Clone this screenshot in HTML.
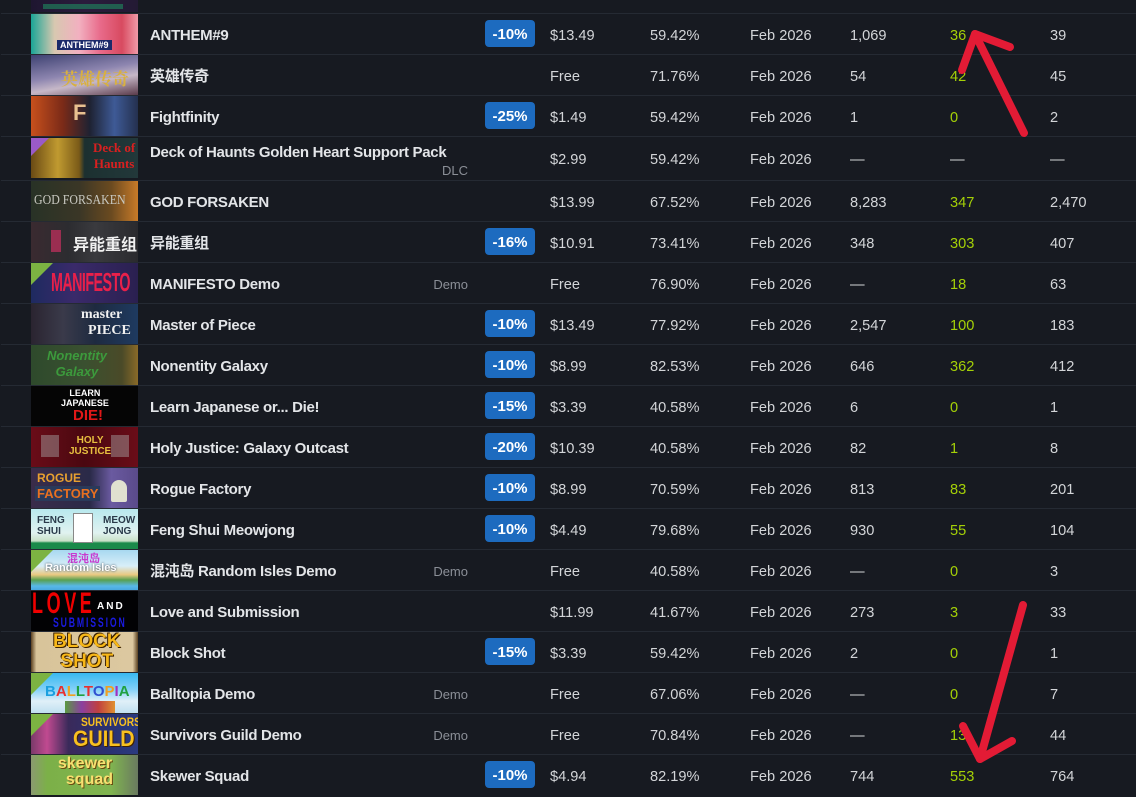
<!DOCTYPE html>
<html><head><meta charset="utf-8">
<style>
*{box-sizing:border-box}
body{margin:0;background:#171a21;width:1136px;height:793px;overflow:hidden;position:relative;font-family:"Liberation Sans","Noto Sans CJK SC",sans-serif;}
.r{position:absolute;left:1px;width:1135px;height:41px;border-top:1px solid #252a33;}
.t{position:absolute;left:30px;top:0;width:107px;height:40px;overflow:hidden;}
.n{position:absolute;left:149px;top:2px;line-height:40px;font-weight:bold;font-size:15px;letter-spacing:-0.3px;color:#e3e5e8;white-space:nowrap}
.c{position:absolute;top:2px;line-height:40px;font-size:14.6px;color:#d3d5d8;white-space:nowrap}
.p{left:549px}.q{left:649px}.d{left:749px}.e{left:849px}.g{left:949px;color:#a4d007}.l{left:1049px}
.b{position:absolute;left:484px;top:6px;width:50px;height:27px;border-radius:4px;background:#1d6bbf;color:#fff;font-weight:bold;font-size:15px;text-align:center;line-height:30px}
.tag{position:absolute;right:668px;top:2px;line-height:40px;font-size:13px;color:#8b8f97}
.tri{position:absolute;left:0;top:0;width:0;height:0;border-top:22px solid #7cb342;border-right:22px solid transparent}
.tx{position:absolute;white-space:nowrap;font-weight:bold}
</style></head><body>

<!-- partial top row -->
<div style="position:absolute;left:31px;top:0;width:107px;height:12px;background:linear-gradient(90deg,#1e1630,#2a1c3c 50%,#231a34);overflow:hidden">
<div style="position:absolute;left:12px;top:4px;width:80px;height:5px;background:#1f7a5a;opacity:.7"></div></div>

<!-- 1 ANTHEM -->
<div class="r" style="top:13px">
<div class="t" style="background:linear-gradient(90deg,#1aa596 0%,#d8c8b0 22%,#f2b0c0 45%,#e86a8a 65%,#d84a60 85%,#f09aa8 100%)">
<div class="tx" style="left:26px;top:26px;font-size:9px;color:#fff;background:#1a2a6a;padding:0 3px">ANTHEM#9</div></div>
<span class="n">ANTHEM#9</span><span class="b">-10%</span>
<span class="c p">$13.49</span><span class="c q">59.42%</span><span class="c d">Feb 2026</span><span class="c e">1,069</span><span class="c g">36</span><span class="c l">39</span></div>

<!-- 2 -->
<div class="r" style="top:54px">
<div class="t" style="background:linear-gradient(170deg,#3e4272 0%,#8e86b0 45%,#c6b8c8 65%,#5a3a4a 100%)">
<div class="tx" style="left:30px;top:10px;font-size:17px;color:#d8b040;font-family:'Noto Serif CJK SC',serif">英雄传奇</div></div>
<span class="n">英雄传奇</span>
<span class="c p">Free</span><span class="c q">71.76%</span><span class="c d">Feb 2026</span><span class="c e">54</span><span class="c g">42</span><span class="c l">45</span></div>

<!-- 3 -->
<div class="r" style="top:95px">
<div class="t" style="background:linear-gradient(90deg,#c8501c 0%,#7a2a18 30%,#1e2232 55%,#3e5a96 78%,#24304e 100%)">
<div class="tx" style="left:42px;top:4px;font-size:22px;color:#e8c090">F</div></div>
<span class="n">Fightfinity</span><span class="b">-25%</span>
<span class="c p">$1.49</span><span class="c q">59.42%</span><span class="c d">Feb 2026</span><span class="c e">1</span><span class="c g">0</span><span class="c l">2</span></div>

<!-- 4 Deck -->
<div class="r" style="top:136px;height:44px">
<div class="t" style="top:1px;background:linear-gradient(90deg,#6a4a14 0%,#c09a30 25%,#7a5a18 45%,#1c3030 50%,#22383a 100%)">
<div style="position:absolute;left:0;top:0;border-top:18px solid #9a5ac8;border-right:18px solid transparent"></div>
<div class="tx" style="left:62px;top:2px;font-size:13px;line-height:16px;color:#d82020;text-align:center;font-family:'Liberation Serif',serif">Deck of<br>Haunts</div></div>
<span class="n" style="top:-4px">Deck of Haunts Golden Heart Support Pack</span>
<span class="tag" style="top:14px">DLC</span>
<span class="c p" style="line-height:43px">$2.99</span><span class="c q" style="line-height:43px">59.42%</span><span class="c d" style="line-height:43px">Feb 2026</span><span class="c e" style="line-height:43px">—</span><span class="c" style="left:949px;line-height:43px">—</span><span class="c l" style="line-height:43px">—</span></div>

<!-- 5 GOD -->
<div class="r" style="top:180px">
<div class="t" style="background:linear-gradient(90deg,#283226 0%,#3a3626 45%,#6a4a20 75%,#c87a28 100%)">
<div class="tx" style="left:3px;top:12px;font-size:14px;color:#c8c8c0;font-family:'Liberation Serif',serif;font-weight:normal;transform:scaleX(0.85);transform-origin:left">GOD FORSAKEN</div></div>
<span class="n">GOD FORSAKEN</span>
<span class="c p">$13.99</span><span class="c q">67.52%</span><span class="c d">Feb 2026</span><span class="c e">8,283</span><span class="c g">347</span><span class="c l">2,470</span></div>

<!-- 6 -->
<div class="r" style="top:221px">
<div class="t" style="background:linear-gradient(90deg,#3a2a30 0%,#2c2c30 35%,#3a3a3e 60%,#2a2a2e 100%)">
<div style="position:absolute;left:20px;top:8px;width:10px;height:22px;background:#c83060;opacity:.7"></div>
<div class="tx" style="left:42px;top:9px;font-size:16px;color:#f0f0f0">异能重组</div></div>
<span class="n">异能重组</span><span class="b">-16%</span>
<span class="c p">$10.91</span><span class="c q">73.41%</span><span class="c d">Feb 2026</span><span class="c e">348</span><span class="c g">303</span><span class="c l">407</span></div>

<!-- 7 MANIFESTO -->
<div class="r" style="top:262px">
<div class="t" style="background:linear-gradient(90deg,#1e2a60 0%,#3a2a6a 40%,#2a2050 100%)">
<div class="tri"></div>
<div class="tx" style="left:20px;top:4px;font-size:26px;color:#e8204a;letter-spacing:-1px;transform:scaleX(0.55);transform-origin:left">MANIFESTO</div></div>
<span class="n">MANIFESTO Demo</span><span class="tag">Demo</span>
<span class="c p">Free</span><span class="c q">76.90%</span><span class="c d">Feb 2026</span><span class="c e">—</span><span class="c g">18</span><span class="c l">63</span></div>

<!-- 8 Master -->
<div class="r" style="top:303px">
<div class="t" style="background:linear-gradient(90deg,#2a2430 0%,#3a3a4a 30%,#1e2a40 60%,#1e3a60 100%)">
<div class="tx" style="left:50px;top:3px;font-size:14px;line-height:16px;color:#f0f0f0;font-family:'Liberation Serif',serif">master<br>&nbsp;&nbsp;PIECE</div></div>
<span class="n">Master of Piece</span><span class="b">-10%</span>
<span class="c p">$13.49</span><span class="c q">77.92%</span><span class="c d">Feb 2026</span><span class="c e">2,547</span><span class="c g">100</span><span class="c l">183</span></div>

<!-- 9 Nonentity -->
<div class="r" style="top:344px">
<div class="t" style="background:linear-gradient(90deg,#2e4a2c 0%,#3a5030 50%,#4a4a28 85%,#8a6a28 100%)">
<div class="tx" style="left:16px;top:3px;font-size:13px;line-height:16px;color:#3c9a3c;font-style:italic;text-align:center">Nonentity<br>Galaxy</div></div>
<span class="n">Nonentity Galaxy</span><span class="b">-10%</span>
<span class="c p">$8.99</span><span class="c q">82.53%</span><span class="c d">Feb 2026</span><span class="c e">646</span><span class="c g">362</span><span class="c l">412</span></div>

<!-- 10 Learn -->
<div class="r" style="top:385px">
<div class="t" style="background:#050505">
<div class="tx" style="left:30px;top:2px;font-size:9px;line-height:10px;color:#fff;text-align:center">LEARN<br>JAPANESE</div>
<div class="tx" style="left:42px;top:21px;font-size:15px;color:#e01818">DIE!</div></div>
<span class="n">Learn Japanese or... Die!</span><span class="b">-15%</span>
<span class="c p">$3.39</span><span class="c q">40.58%</span><span class="c d">Feb 2026</span><span class="c e">6</span><span class="c g">0</span><span class="c l">1</span></div>

<!-- 11 Holy -->
<div class="r" style="top:426px">
<div class="t" style="background:linear-gradient(90deg,#6a0c18 0%,#4a0810 50%,#6a0c18 100%)">
<div style="position:absolute;left:10px;top:8px;width:18px;height:22px;background:#a8a8a8;opacity:.45"></div>
<div style="position:absolute;left:80px;top:8px;width:18px;height:22px;background:#a8a8a8;opacity:.45"></div>
<div class="tx" style="left:38px;top:8px;font-size:10px;line-height:11px;color:#e8c040;text-align:center">HOLY<br>JUSTICE</div></div>
<span class="n">Holy Justice: Galaxy Outcast</span><span class="b">-20%</span>
<span class="c p">$10.39</span><span class="c q">40.58%</span><span class="c d">Feb 2026</span><span class="c e">82</span><span class="c g">1</span><span class="c l">8</span></div>

<!-- 12 Rogue -->
<div class="r" style="top:467px">
<div class="t" style="background:linear-gradient(90deg,#3a2c4a 0%,#2a2a48 55%,#6a5aa0 75%,#5a4a8a 100%)">
<div class="tx" style="left:6px;top:3px;font-size:12px;line-height:15px;color:#e8a030">ROGUE</div>
<div class="tx" style="left:4px;top:18px;font-size:13px;color:#e87020;background:#2a3a5a;padding:0 2px">FACTORY</div>
<div style="position:absolute;left:80px;top:12px;width:16px;height:22px;background:#e0e0d0;border-radius:8px 8px 2px 2px"></div></div>
<span class="n">Rogue Factory</span><span class="b">-10%</span>
<span class="c p">$8.99</span><span class="c q">70.59%</span><span class="c d">Feb 2026</span><span class="c e">813</span><span class="c g">83</span><span class="c l">201</span></div>

<!-- 13 Feng -->
<div class="r" style="top:508px">
<div class="t" style="background:linear-gradient(180deg,#b8e8ee 0%,#e0f2f0 60%,#c8e0c8 80%,#1a8a4a 85%,#1a8a4a 100%)">
<div class="tx" style="left:6px;top:6px;font-size:10px;line-height:11px;color:#2a3a4a">FENG<br>SHUI</div>
<div class="tx" style="left:72px;top:6px;font-size:10px;line-height:11px;color:#2a3a4a">MEOW<br>JONG</div>
<div style="position:absolute;left:42px;top:4px;width:20px;height:30px;background:#fff;border:1px solid #888"></div></div>
<span class="n">Feng Shui Meowjong</span><span class="b">-10%</span>
<span class="c p">$4.49</span><span class="c q">79.68%</span><span class="c d">Feb 2026</span><span class="c e">930</span><span class="c g">55</span><span class="c l">104</span></div>

<!-- 14 混沌岛 -->
<div class="r" style="top:549px">
<div class="t" style="background:linear-gradient(180deg,#a8d8f0 0%,#d8eef8 40%,#e8c880 62%,#58a050 75%,#58b8e8 90%,#48a8e0 100%)">
<div class="tri"></div>
<div class="tx" style="left:36px;top:0px;font-size:11px;color:#c83ad0">混沌岛</div>
<div class="tx" style="left:14px;top:12px;font-size:11px;color:#fff;text-shadow:0 0 2px #345">Random Isles</div></div>
<span class="n">混沌岛 Random Isles Demo</span><span class="tag">Demo</span>
<span class="c p">Free</span><span class="c q">40.58%</span><span class="c d">Feb 2026</span><span class="c e">—</span><span class="c g">0</span><span class="c l">3</span></div>

<!-- 15 Love -->
<div class="r" style="top:590px">
<div class="t" style="background:#020204">
<div class="tx" style="left:1px;top:-4px;font-size:30px;color:#f00000;letter-spacing:6px;transform:scaleX(0.6);transform-origin:left">LOVE</div>
<div class="tx" style="left:66px;top:10px;font-size:10px;color:#fff;letter-spacing:2px">AND</div>
<div class="tx" style="left:22px;top:23px;font-size:14px;color:#1a1ae0;letter-spacing:3px;transform:scaleX(0.62);transform-origin:left">SUBMISSION</div></div>
<span class="n">Love and Submission</span>
<span class="c p">$11.99</span><span class="c q">41.67%</span><span class="c d">Feb 2026</span><span class="c e">273</span><span class="c g">3</span><span class="c l">33</span></div>

<!-- 16 Block -->
<div class="r" style="top:631px">
<div class="t" style="background:linear-gradient(90deg,#5a4020 0%,#d8c49a 5%,#dcc8a0 95%,#5a4020 100%)">
<div class="tx" style="left:22px;top:0px;font-size:19px;line-height:20px;color:#f8b818;text-shadow:1px 1px 0 #3a2000,-1px -1px 0 #3a2000;text-align:center">BLOCK<br>SHOT</div></div>
<span class="n">Block Shot</span><span class="b">-15%</span>
<span class="c p">$3.39</span><span class="c q">59.42%</span><span class="c d">Feb 2026</span><span class="c e">2</span><span class="c g">0</span><span class="c l">1</span></div>

<!-- 17 Balltopia -->
<div class="r" style="top:672px">
<div class="t" style="background:linear-gradient(180deg,#38b8f0 0%,#80d0f8 40%,#e0f0f8 70%,#c0e0f0 100%)">
<div class="tri"></div>
<div class="tx" style="left:14px;top:10px;font-size:15px;letter-spacing:0px"><span style="color:#1aa0e0">B</span><span style="color:#e83030">A</span><span style="color:#f0a020">L</span><span style="color:#20a040">L</span><span style="color:#e83030">T</span><span style="color:#3050d0">O</span><span style="color:#f0a020">P</span><span style="color:#a030c0">I</span><span style="color:#20a040">A</span></div>
<div style="position:absolute;left:34px;top:28px;width:50px;height:12px;background:linear-gradient(90deg,#5a9a40,#8a40a0,#c04040,#e09030)"></div></div>
<span class="n">Balltopia Demo</span><span class="tag">Demo</span>
<span class="c p">Free</span><span class="c q">67.06%</span><span class="c d">Feb 2026</span><span class="c e">—</span><span class="c g">0</span><span class="c l">7</span></div>

<!-- 18 Survivors -->
<div class="r" style="top:713px">
<div class="t" style="background:linear-gradient(90deg,#7a3a6a 0%,#c04a90 15%,#3a2a5a 35%,#2a3070 70%,#2a3a80 100%)">
<div class="tri"></div>
<div class="tx" style="left:50px;top:1px;font-size:12px;color:#f8c020;transform:scaleX(0.85);transform-origin:left">SURVIVORS</div>
<div class="tx" style="left:42px;top:12px;font-size:22px;color:#f8c020;text-shadow:1px 1px 0 #402000;transform:scaleX(0.9);transform-origin:left">GUILD</div></div>
<span class="n">Survivors Guild Demo</span><span class="tag">Demo</span>
<span class="c p">Free</span><span class="c q">70.84%</span><span class="c d">Feb 2026</span><span class="c e">—</span><span class="c g">13</span><span class="c l">44</span></div>

<!-- 19 Skewer -->
<div class="r" style="top:754px">
<div class="t" style="background:linear-gradient(90deg,#8a9a70 0%,#7cb048 15%,#80b450 75%,#6a7a60 100%)">
<div class="tx" style="left:26px;top:1px;font-size:16px;line-height:16px;color:#f8e070;text-shadow:1px 1px 0 #6a4a10;text-align:center">skewer<br>&nbsp;&nbsp;squad</div></div>
<span class="n">Skewer Squad</span><span class="b">-10%</span>
<span class="c p">$4.94</span><span class="c q">82.19%</span><span class="c d">Feb 2026</span><span class="c e">744</span><span class="c g">553</span><span class="c l">764</span></div>

<!-- arrows -->
<svg style="position:absolute;left:0;top:0" width="1136" height="793">
<g fill="none" stroke="#e31b35" stroke-width="8" stroke-linecap="round" stroke-linejoin="round">
<path d="M1024,133 L975,34"/>
<path d="M962,70 L975,34 L1010,47"/>
<path d="M1023,605 L980,759"/>
<path d="M963,726 L980,759 L1012,741"/>
</g></svg>
</body></html>
